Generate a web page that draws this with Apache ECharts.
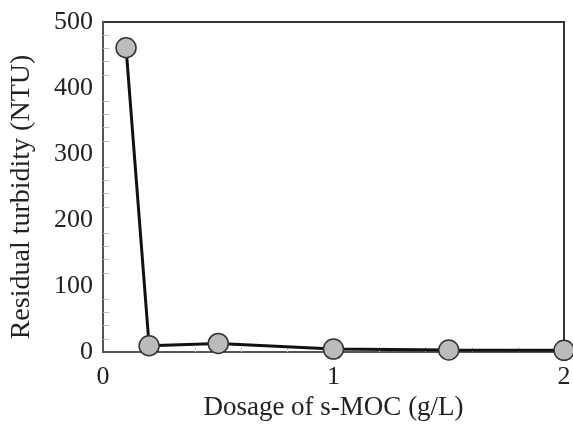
<!DOCTYPE html>
<html><head><meta charset="utf-8">
<script src="https://cdn.jsdelivr.net/npm/echarts@6/dist/echarts.min.js"></script>
<style>html,body{margin:0;padding:0;background:#fff}#c{width:573px;height:424px}</style>
</head><body><div id="c"></div>
<script>
const dosage = [0.1, 0.2, 0.5, 1.0, 1.5, 2.0];
const turbidity = [461, 9.5, 13, 4.5, 3, 2.5];
const xTicks = [0, 1, 2];
const yTicks = [0, 100, 200, 300, 400, 500];
const xTitle = 'Dosage of s-MOC (g/L)';
const yTitle = 'Residual turbidity (NTU)';

const font = '"Liberation Serif", "Times New Roman", serif';
const chart = echarts.init(document.getElementById('c'));
chart.setOption({
  animation: false,
  grid: {left: 103, right: 9, top: 22, bottom: 72, outerBoundsMode: 'none', containLabel: false, show: true, borderColor: '#333', borderWidth: 2, backgroundColor: 'transparent'},
  xAxis: {
    type: 'value', min: 0, max: 2, interval: 1,
    name: xTitle, nameLocation: 'middle', nameGap: 38,
    nameTextStyle: {fontFamily: font, fontSize: 27, color: '#222'},
    axisLine: {lineStyle: {color: '#555', width: 2}},
    axisTick: {show: false, inside: true},
    minorTick: {show: true, splitNumber: 5, length: 5, lineStyle: {color: '#ccc'}},
    axisLabel: {fontFamily: font, fontSize: 26, color: '#222', margin: 12, formatter: v => xTicks.includes(v) ? String(v) : ''},
    splitLine: {show: false}
  },
  yAxis: {
    type: 'value', min: 0, max: 500, interval: 100,
    name: yTitle, nameLocation: 'middle', nameGap: 67,
    nameTextStyle: {fontFamily: font, fontSize: 28, color: '#222', padding: [0, 20, 0, 0]},
    axisLine: {lineStyle: {color: '#555', width: 2}},
    axisTick: {show: false, inside: true},
    minorTick: {show: true, splitNumber: 5, length: 6, lineStyle: {color: '#bbb'}},
    axisLabel: {fontFamily: font, fontSize: 26, color: '#222', margin: 10, formatter: v => yTicks.includes(v) ? String(v) : ''},
    splitLine: {show: false}
  },
  series: [{
    type: 'line',
    data: dosage.map((d, i) => [d, turbidity[i]]),
    symbol: 'circle', symbolSize: 20,
    lineStyle: {color: '#111', width: 3},
    itemStyle: {color: '#bbb', borderColor: '#333', borderWidth: 1.5}
  }]
});
</script></body></html>
